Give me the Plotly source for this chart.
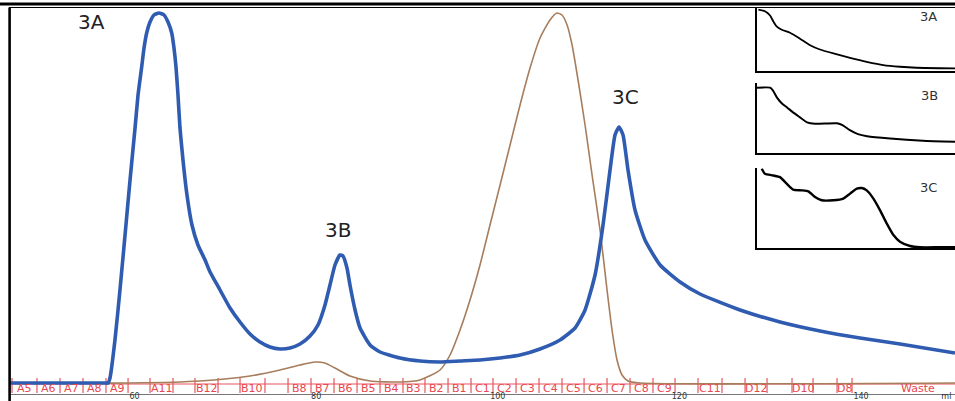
import plotly.graph_objects as go

# ---------------- main chromatogram data ----------------
blue_ml = [46.28, 56.74, 57.07, 57.29, 57.84, 58.39, 58.95, 59.50, 60.05, 60.38, 60.78, 61.04,
           61.33, 61.70, 62.14, 62.69, 63.24, 63.68, 64.09, 64.34, 64.56, 64.78, 65.00, 65.33,
           65.77, 66.32, 66.98, 67.76, 68.31, 69.41,
           70.51, 71.61, 72.71, 73.81, 74.91, 76.02, 77.12, 78.22, 79.32, 80.20, 80.97, 81.52,
           82.07, 82.62, 82.95, 83.39, 83.72, 84.28, 84.83, 85.93, 87.03, 89.23, 91.43, 93.64,
           95.84, 98.04, 100.25, 102.45, 104.65, 106.85, 108.51, 109.61, 110.71, 111.59, 112.36,
           112.91, 113.35, 113.79, 114.34, 115.11, 116.21, 117.87, 120.07, 122.27, 126.68,
           131.08, 135.49, 139.89, 144.30, 150.35]
blue_abs = [11, 11, 11, 16, 54, 104, 159, 214, 266, 299, 327, 346,
            361, 372, 379, 381, 379, 372, 361, 346, 327, 299, 266, 234,
            199, 169, 149, 134, 122, 104,
            86, 72, 60, 52, 47, 45, 46, 50, 58, 69, 89, 109,
            129, 139, 138, 126, 109, 84, 66, 49, 42, 36, 33, 32,
            33, 34, 36, 39, 45, 54, 66, 84, 119, 169, 224,
            259, 267, 259, 224, 184, 154, 129, 112, 100, 84,
            72, 63, 56, 50, 41]

brown_ml = [46.28, 59.50, 67.20, 72.71, 76.02, 78.22, 79.87, 80.97, 82.07, 83.72, 85.93, 89.23,
            91.43, 93.64, 94.74, 95.84, 96.94, 98.04, 99.14, 100.25, 101.35, 102.45, 103.55,
            104.65, 105.75, 106.52, 107.07, 107.63, 108.18, 108.84, 109.61, 110.38, 111.26,
            112.03, 112.58, 113.13, 113.68, 114.34, 115.66, 150.35]
brown_val = [11, 11, 13, 18, 24, 29, 32, 31, 26, 18, 13, 12,
             14, 24, 39, 64, 94, 129, 169, 209, 249, 289, 326,
             356, 374, 381, 379, 369, 349, 314, 269, 219, 164,
             104, 64, 34, 19, 13, 11, 11]

# ---------------- fraction collector ----------------
frac_edges = [46.50, 49.25, 51.79, 54.32, 56.85, 59.28, 61.70, 64.23, 66.65, 69.19, 71.61,
              74.36, 76.90, 79.43, 81.96, 84.50, 87.03, 89.56, 91.98, 94.52, 97.05, 99.47,
              102.01, 104.54, 107.07, 109.50, 112.03, 114.56, 117.09, 119.52, 122.05, 124.69,
              127.23, 129.65, 132.40, 134.72, 137.36, 139.01]
frac_labels = ["A5", "A6", "A7", "A8", "A9", "", "A11", "", "B12", "", "B10", "", "B8",
               "B7", "B6", "B5", "B4", "B3", "B2", "B1", "C1", "C2", "C3", "C4", "C5",
               "C6", "C7", "C8", "C9", "", "C11", "", "D12", "", "D10", "", "D8"]
waste_label = "Waste"
waste_pos = 146.3

# ---------------- x axis ticks ----------------
tick_vals = [60, 80, 100, 120, 140, 149.4]
tick_text = ["60", "80", "100", "120", "140", "ml"]

# ---------------- peak labels ----------------
peak_names = ["3A", "3B", "3C"]
peak_x = [55.3, 82.4, 114.1]
peak_y = [372, 164, 297]

# ---------------- inset spectra ----------------
s3a_x = [0.7, 4.0, 6.6, 8.2, 9.9, 12.5, 16.7, 21.7, 26.8, 31.8, 38.6, 47.0, 55.4, 63.8, 72.2, 80.6, 100]
s3a_y = [98.9, 96.2, 89.3, 80.1, 71.6, 66.3, 61.5, 51.9, 41.2, 34.3, 27.9, 20.8, 14.4, 9.1, 6.4, 4.8, 3.8]
s3b_x = [0, 6.6, 8.1, 10.1, 12.6, 15.2, 18.2, 21.7, 25.3, 29.3, 40.4, 43.4, 46.9, 51.0, 55.6, 67.2, 83.8, 100]
s3b_y = [94.7, 94.7, 90.4, 80.4, 71.9, 66.1, 59.0, 51.9, 44.7, 42.6, 43.3, 40.4, 33.3, 27.6, 24.7, 21.4, 18.1, 16.6]
s3c_x = [2.4, 4.0, 8.2, 11.6, 15.0, 18.3, 22.6, 25.9, 29.3, 32.7, 38.5, 43.6, 47.0, 50.4, 52.9,
         55.4, 58.8, 62.1, 65.5, 68.9, 72.2, 77.3, 82.3, 92.4, 100]
s3c_y = [100, 93.7, 91.6, 89.5, 81.3, 73.8, 72.9, 71.6, 64.5, 60.4, 60.4, 62.5, 68.8, 75, 75.8,
         72.9, 62.5, 48, 31.3, 16.6, 8.3, 2.9, 1.3, 1.3, 1.3]

W, H = 955, 401
ML, MR, MT, MB = 10, 0, 8, 7
plot_h = H - MT - MB

def py(pix):  # pixel y -> paper y
    return (H - MB - pix) / plot_h

def px(pix):  # pixel x -> paper x
    return (pix - ML) / (W - ML - MR)

fig = go.Figure()

fig.add_trace(go.Scatter(x=brown_ml, y=brown_val, mode="lines",
                         line=dict(color="#a77d5c", width=1.6, shape="spline", smoothing=0.6),
                         hoverinfo="skip", showlegend=False))
fig.add_trace(go.Scatter(x=blue_ml, y=blue_abs, mode="lines",
                         line=dict(color="#2f5cb0", width=3.6, shape="spline", smoothing=0.5),
                         hoverinfo="skip", showlegend=False))

# inset spectra
for i, (sx, sy, w) in enumerate([(s3a_x, s3a_y, 1.8), (s3b_x, s3b_y, 2.0), (s3c_x, s3c_y, 2.4)], start=2):
    fig.add_trace(go.Scatter(x=sx, y=sy, mode="lines", xaxis=f"x{i}", yaxis=f"y{i}",
                             line=dict(color="black", width=w, shape="spline", smoothing=0.5),
                             hoverinfo="skip", showlegend=False))

shapes = []
# fraction strip: horizontal red line and boundary ticks
shapes.append(dict(type="line", xref="x", yref="y", x0=frac_edges[0], x1=150.35, y0=10, y1=10,
                   line=dict(color="#e8555c", width=1.2), layer="below"))
for e in frac_edges:
    shapes.append(dict(type="line", xref="x", yref="y", x0=e, x1=e, y0=1, y1=16,
                       line=dict(color="#e8555c", width=1.2), layer="below"))
# frame lines
shapes.append(dict(type="line", xref="paper", yref="paper", x0=px(0), x1=1, y0=py(4), y1=py(4),
                   line=dict(color="black", width=3.2)))
shapes.append(dict(type="line", xref="paper", yref="paper", x0=px(9), x1=1, y0=py(7.5), y1=py(7.5),
                   line=dict(color="black", width=1.2)))
shapes.append(dict(type="line", xref="paper", yref="paper", x0=px(9.6), x1=px(9.6), y0=py(7.5), y1=py(401),
                   line=dict(color="black", width=2.6)))

annotations = []
for i, lab in enumerate(frac_labels):
    if lab:
        annotations.append(dict(x=(frac_edges[i] + frac_edges[i + 1]) / 2, y=5.8, xref="x", yref="y",
                                text=lab, showarrow=False, xanchor="center", yanchor="middle",
                                font=dict(family="DejaVu Sans", size=11, color="#e8474f")))
annotations.append(dict(x=waste_pos, y=5.8, xref="x", yref="y", text=waste_label, showarrow=False,
                        xanchor="center", yanchor="middle",
                        font=dict(family="DejaVu Sans", size=11, color="#e8474f")))
for n, x, y in zip(peak_names, peak_x, peak_y):
    annotations.append(dict(x=x, y=y, xref="x", yref="y", text=n, showarrow=False,
                            xanchor="center", yanchor="middle",
                            font=dict(family="DejaVu Sans", size=20, color="#222222")))
for n, yy, xx in zip(peak_names, [17, 95, 187], [928, 929, 928]):
    annotations.append(dict(x=px(xx), y=py(yy), xref="paper", yref="paper", text=n, showarrow=False,
                            xanchor="center", yanchor="middle",
                            font=dict(family="DejaVu Sans", size=13, color="#333333")))

inset_dom_x = [px(757), 1.0]
inset_dom_y = [[py(70.7), py(8.3)], [py(153.3), py(83.3)], [py(248.3), py(168)]]

layout = dict(
    width=W, height=H, margin=dict(l=ML, r=MR, t=MT, b=MB),
    paper_bgcolor="white", plot_bgcolor="white",
    shapes=shapes, annotations=annotations,
    xaxis=dict(range=[46.28, 150.35], domain=[0, 1], tickvals=tick_vals, ticktext=tick_text,
               showline=True, linecolor="#777777", linewidth=1, ticks="", ticklen=0,
               showgrid=False, zeroline=False, ticklabelstandoff=-6,
               tickfont=dict(family="DejaVu Sans", size=8, color="#333333")),
    yaxis=dict(range=[0, 386], domain=[0, 1], visible=False, showgrid=False, zeroline=False),
)
for i, dy in enumerate(inset_dom_y, start=2):
    layout[f"xaxis{i}"] = dict(domain=inset_dom_x, anchor=f"y{i}", range=[0, 100],
                               showline=True, linecolor="black", linewidth=1.6, showgrid=False,
                               zeroline=False, showticklabels=False, ticks="")
    layout[f"yaxis{i}"] = dict(domain=dy, anchor=f"x{i}", range=[0, 101],
                               showline=True, linecolor="black", linewidth=1.6, showgrid=False,
                               zeroline=False, showticklabels=False, ticks="")
fig.update_layout(**layout)

post = ("document.body.style.margin='0px';"
        "document.documentElement.style.overflow='hidden';"
        "document.body.style.overflow='hidden';"
        "var gd=document.getElementById('{plot_id}');"
        "gd.style.overflow='hidden';")
fig.write_html("out.html", config={"displayModeBar": False}, post_script=post)
